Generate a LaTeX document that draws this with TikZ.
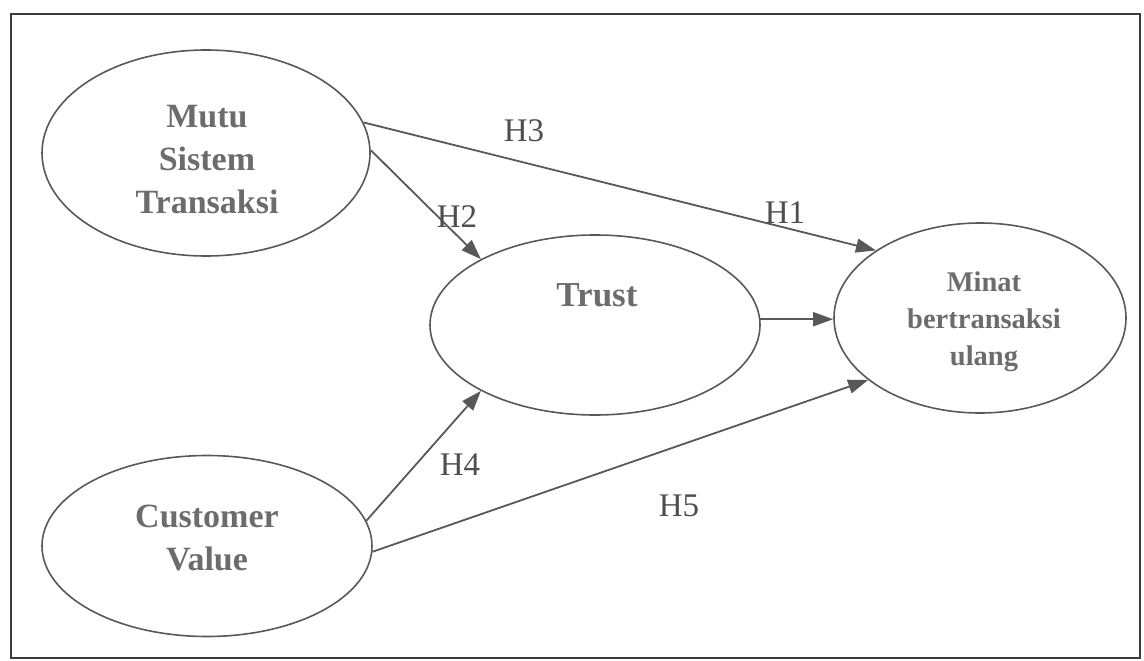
\documentclass[tikz,border=0pt]{standalone}
\usepackage{fontspec}
\setmainfont{Liberation Serif}
\usetikzlibrary{shapes.geometric,arrows.meta}
\definecolor{lineg}{RGB}{88,88,88}
\definecolor{textg}{RGB}{108,108,108}
\definecolor{labg}{RGB}{78,78,78}
\definecolor{frameg}{RGB}{60,60,60}
\begin{document}
\begin{tikzpicture}[x=1pt,y=-1pt,
  construct/.style={ellipse,draw=lineg,line width=1.6pt,inner sep=0pt},
  ctext/.style={text=textg,font=\fontsize{34}{43}\selectfont\bfseries,align=center},
  hlabel/.style={text=labg,font=\fontsize{33}{38}\selectfont},
  conn/.style={draw=lineg,line width=1.8pt,-{Triangle[length=20pt,width=14pt]}}
]
\useasboundingbox (0,0) rectangle (1144,661);
\draw[frameg, line width=2.2pt] (11,14) rectangle (1140,658);

\node[construct, minimum width=328pt, minimum height=206pt] (mutu) at (206,153) {};
\node[construct, minimum width=330pt, minimum height=181pt] (cv) at (207,546) {};
\node[construct, minimum width=330pt, minimum height=180pt] (trust) at (595,325) {};
\node[construct, minimum width=292pt, minimum height=190pt] (minat) at (980,318) {};

\node[ctext] (tmutu) at (207,160) {Mutu\\Sistem\\Transaksi};
\node[ctext] (tcv) at (207,538) {Customer\\Value};
\node[ctext, font=\fontsize{35}{43}\selectfont\bfseries] (ttrust) at (597,295) {Trust};
\node[ctext, font=\fontsize{28.5}{37}\selectfont\bfseries] (tminat) at (984,322) {Minat\\bertransaksi\\ulang};

\draw[conn] (mutu.11) -- (minat.147);
\draw[conn] (mutu.1) -- (trust.150);
\draw[conn] (trust.2) -- (trust.2 -| minat.west);
\draw[conn] (cv.9) -- (trust.210);
\draw[conn] (cv.358) -- (minat.209);

\node[hlabel] (h3) at (524,131) {H3};
\node[hlabel] (h2) at (457,217) {H2};
\node[hlabel] (h1) at (785,213) {H1};
\node[hlabel] (h4) at (460,465) {H4};
\node[hlabel] (h5) at (679,506) {H5};
\end{tikzpicture}
\end{document}
